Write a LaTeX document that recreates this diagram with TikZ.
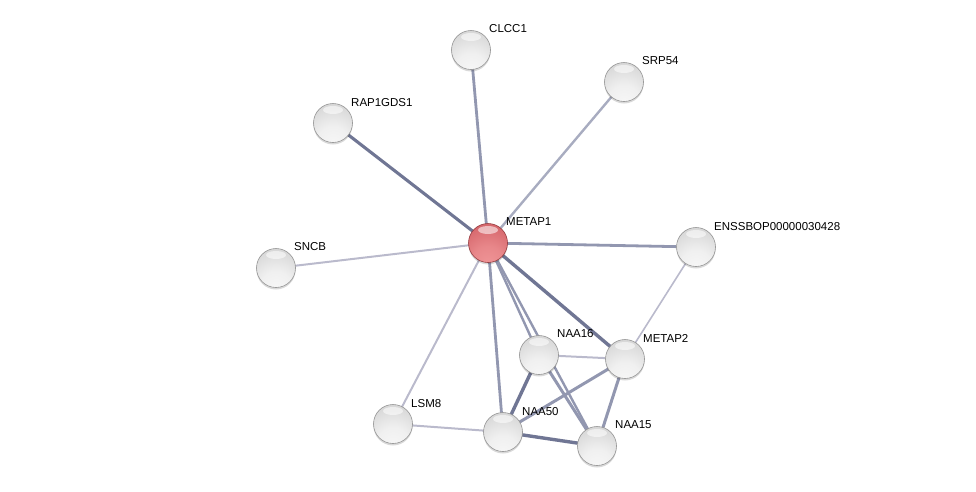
\documentclass[tikz,border=0pt]{standalone}
\usepackage{fontspec}
\setmainfont{Liberation Sans}
\usetikzlibrary{shadows,calc}
\pgfdeclarelayer{bg}
\pgfsetlayers{bg,main}
\definecolor{edgedark}{RGB}{112,118,148}
\definecolor{edgemid}{RGB}{146,151,176}
\definecolor{edgelight}{RGB}{186,186,204}
\definecolor{rA}{RGB}{240,150,152}
\definecolor{rB}{RGB}{232,135,138}
\definecolor{rC}{RGB}{215,105,110}
\definecolor{rD}{RGB}{205,92,96}
\definecolor{rE}{RGB}{188,76,80}
\definecolor{rRim}{RGB}{150,60,64}
\pgfdeclareradialshading{graysphere}{\pgfpoint{0bp}{-30bp}}{%
  color(0bp)=(white!97!black); color(20bp)=(white!94!black); color(40bp)=(white!85!black);
  color(58bp)=(white!79!black); color(80bp)=(white!72!black); color(100bp)=(white!72!black)}
\pgfdeclareradialshading{redsphere}{\pgfpoint{0bp}{-30bp}}{%
  color(0bp)=(rA); color(20bp)=(rB); color(40bp)=(rC);
  color(58bp)=(rD); color(80bp)=(rE); color(100bp)=(rE)}
\tikzset{
  prot/.style={circle, minimum size=39pt, inner sep=0pt, shading=graysphere, draw=white!58!black, line width=0.6pt,
    drop shadow={shadow xshift=0pt, shadow yshift=-2pt, fill=black, opacity=0.15},
    path picture={\fill[white, opacity=0.55] ($(path picture bounding box.north)+(0,-6.5pt)$) ellipse (10pt and 4pt);}},
  seed/.style={prot, shading=redsphere, draw=rRim},
  lab/.style={anchor=south west, inner sep=0pt, font=\fontsize{11.5}{13}\selectfont},
  estrong/.style={draw=edgedark, line width=3.4pt},
  emid/.style={draw=edgemid, line width=2.8pt},
  ethin/.style={draw=edgelight, line width=2pt},
}
\begin{document}
\begin{tikzpicture}[x=1pt,y=-1pt]
\useasboundingbox (0,0) rectangle (976,491);
\node[seed] (metap1) at (488,243) {};
\node[prot] (clcc1) at (471,50) {};
\node[prot] (srp54) at (624,82) {};
\node[prot] (rap) at (333,123) {};
\node[prot] (sncb) at (276,268) {};
\node[prot] (enss) at (696,247) {};
\node[prot] (metap2) at (625,359) {};
\node[prot] (naa16) at (539,355) {};
\node[prot] (lsm8) at (393,424) {};
\node[prot] (naa50) at (503,432) {};
\node[prot] (naa15) at (597,446) {};

\node[lab] (l-metap1) at (506,226) {METAP1};
\node[lab] (l-clcc1) at (489,33) {CLCC1};
\node[lab] (l-srp54) at (642,65) {SRP54};
\node[lab] (l-rap) at (351,107) {RAP1GDS1};
\node[lab] (l-sncb) at (294,251) {SNCB};
\node[lab] (l-enss) at (714,231) {ENSSBOP00000030428};
\node[lab] (l-metap2) at (643,343) {METAP2};
\node[lab] (l-naa16) at (557,338) {NAA16};
\node[lab] (l-lsm8) at (411,408) {LSM8};
\node[lab] (l-naa50) at (522,416) {NAA50};
\node[lab] (l-naa15) at (615,429) {NAA15};

\begin{pgfonlayer}{bg}
\draw[emid] (metap1.center) -- (clcc1.center);
\draw[ethin, line width=2.4pt, draw=edgemid!80] (metap1.center) -- (srp54.center);
\draw[estrong, line width=3.1pt] (metap1.center) -- (rap.center);
\draw[ethin] (metap1.center) -- (sncb.center);
\draw[emid] (metap1.center) -- (enss.center);
\draw[estrong] (metap1.center) -- (metap2.center);
\draw[emid, line width=2.4pt] (metap1.center) -- (naa16.center);
\draw[emid, line width=2.4pt] (metap1.center) -- (naa15.center);
\draw[emid] (metap1.center) -- (naa50.center);
\draw[ethin] (metap1.center) -- (lsm8.center);
\draw[ethin, line width=1.6pt] (enss.center) -- (metap2.center);
\draw[ethin] (naa16.center) -- (metap2.center);
\draw[estrong] (naa16.center) -- (naa50.center);
\draw[emid, line width=3pt] (naa16.center) -- (naa15.center);
\draw[emid, line width=3pt] (naa50.center) -- (metap2.center);
\draw[estrong] (naa50.center) -- (naa15.center);
\draw[emid, line width=3pt] (metap2.center) -- (naa15.center);
\draw[ethin] (naa50.center) -- (lsm8.center);
\end{pgfonlayer}
\end{tikzpicture}
\end{document}
